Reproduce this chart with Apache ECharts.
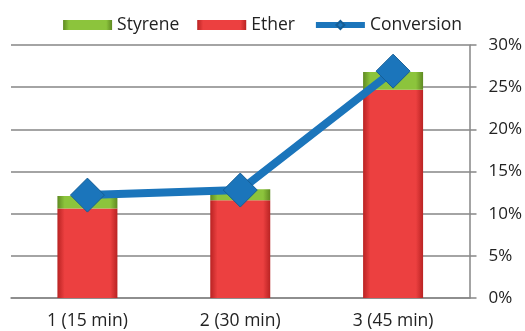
<!DOCTYPE html>
<html><head><meta charset="utf-8">
<script src="https://cdn.jsdelivr.net/npm/echarts@6/dist/echarts.min.js"></script>
<style>html,body{margin:0;padding:0;background:#fff}#c{width:525px;height:331px}</style>
</head><body><div id="c"></div>
<script>
const categories = ['1 (15 min)', '2 (30 min)', '3 (45 min)'];
const ether = [10.6, 11.6, 24.7];
const styrene = [1.5, 1.3, 2.1];
const conversion = [12.2, 12.8, 26.9];
const yTicks = [0, 5, 10, 15, 20, 25, 30];

const font = 'Open Sans';
function grad(edge, mid) {
  return new echarts.graphic.LinearGradient(0, 0, 1, 0, [
    {offset: 0, color: edge}, {offset: 0.12, color: mid}, {offset: 0.88, color: mid}, {offset: 1, color: edge}
  ]);
}
const chart = echarts.init(document.getElementById('c'));
chart.setOption({
  animation: false,
  textStyle: {fontFamily: font},
  legend: {
    top: 11, left: 'center',
    itemWidth: 49, itemHeight: 10, itemGap: 18,
    textStyle: {fontSize: 17.5, color: '#222', fontFamily: font},
    data: [
      {name: 'Styrene', icon: 'rect'},
      {name: 'Ether', icon: 'rect'},
      {name: 'Conversion', lineStyle: {width: 6}}
    ]
  },
  grid: {left: 11, right: 55, top: 45, bottom: 33},
  xAxis: {
    type: 'category', data: categories,
    axisLine: {show: true, lineStyle: {color: '#868686', width: 1.5}},
    axisTick: {show: false},
    axisLabel: {fontSize: 17.5, color: '#222', margin: 14, fontFamily: font}
  },
  yAxis: {
    type: 'value', position: 'right', min: yTicks[0], max: yTicks[yTicks.length - 1], interval: 5,
    axisLine: {show: true, lineStyle: {color: '#868686', width: 1.5}},
    axisTick: {show: true, length: 7, lineStyle: {color: '#868686', width: 1.5}},
    splitLine: {show: true, lineStyle: {color: '#868686', width: 1.5}},
    axisLabel: {fontSize: 17, color: '#222', margin: 19, formatter: '{value}%', fontFamily: font}
  },
  series: [
    {
      name: 'Ether', type: 'bar', stack: 's', data: ether, barWidth: 60,
      itemStyle: {color: grad('#b92323', '#ec4040')}
    },
    {
      name: 'Styrene', type: 'bar', stack: 's', data: styrene, barWidth: 60,
      itemStyle: {color: grad('#5f8a22', '#8cc43c')}
    },
    {
      name: 'Conversion', type: 'line', data: conversion, z: 5,
      symbol: 'diamond', symbolSize: [34, 34],
      lineStyle: {color: '#1b75bb', width: 8},
      itemStyle: {color: '#1b75bb', borderColor: '#155e96', borderWidth: 1}
    }
  ]
});
</script></body></html>
